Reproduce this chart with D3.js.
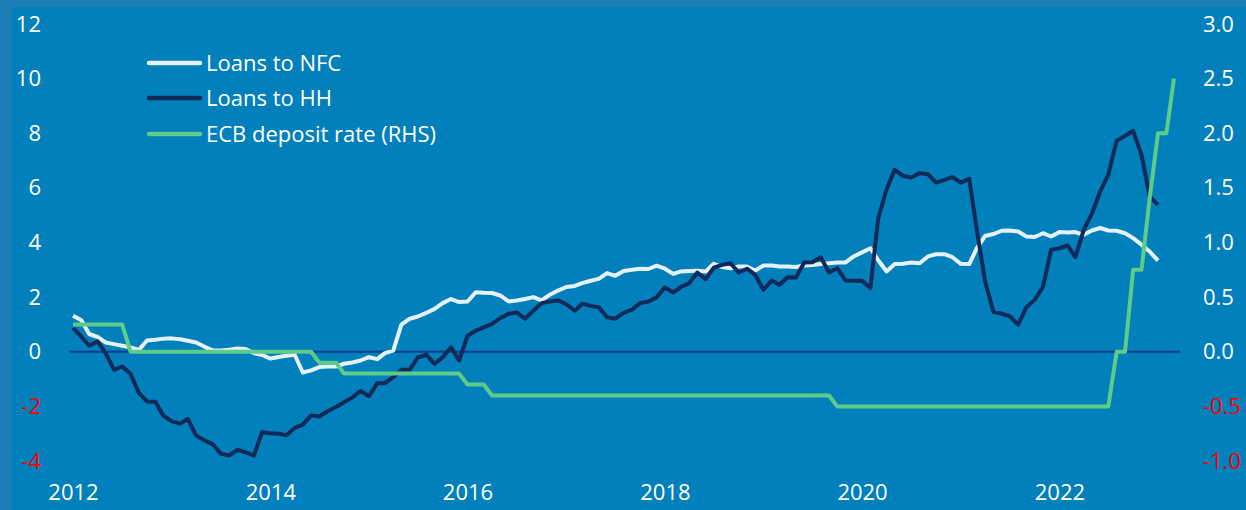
<!DOCTYPE html>
<html>
<head>
<meta charset="utf-8">
<script src="https://cdn.jsdelivr.net/npm/d3@7"></script>
<style>
  html, body { margin: 0; padding: 0; background: #1c7eb5; }
  svg { display: block; font-family: "Open Sans", sans-serif; }
</style>
</head>
<body>
<div id="chart"></div>
<script>
// monthly series, first point = Jan 2012
const startMonth = new Date(2012, 0, 1);

const loansNFC = [
  1.32, 1.15, 0.65, 0.54, 0.34, 0.28, 0.22, 0.16, 0.07, 0.41, 0.44, 0.48,
  0.49, 0.46, 0.40, 0.34, 0.19, 0.05, 0.05, 0.07, 0.12, 0.10, -0.05, -0.12,
  -0.25, -0.19, -0.15, -0.11, -0.76, -0.68, -0.56, -0.54, -0.54, -0.44, -0.39, -0.32,
  -0.20, -0.27, -0.05, 0.04, 0.99, 1.21, 1.29, 1.42, 1.57, 1.78, 1.93, 1.82,
  1.84, 2.18, 2.16, 2.15, 2.06, 1.84, 1.88, 1.93, 2.00, 1.88, 2.09, 2.24,
  2.37, 2.41, 2.51, 2.60, 2.67, 2.88, 2.78, 2.96, 3.00, 3.04, 3.03, 3.15,
  3.04, 2.85, 2.94, 2.96, 2.97, 2.94, 3.22, 3.10, 3.06, 3.12, 3.12, 2.97,
  3.16, 3.16, 3.12, 3.12, 3.10, 3.16, 3.18, 3.21, 3.24, 3.27, 3.27, 3.49,
  3.64, 3.79, 3.35, 2.94, 3.21, 3.22, 3.27, 3.24, 3.49, 3.57, 3.57, 3.46,
  3.22, 3.21, 3.79, 4.24, 4.31, 4.43, 4.44, 4.40, 4.22, 4.20, 4.34, 4.22,
  4.38, 4.37, 4.38, 4.28, 4.44, 4.53, 4.44, 4.43, 4.34, 4.16, 3.92, 3.67,
  3.34
];

const loansHH = [
  0.87, 0.55, 0.22, 0.38, -0.05, -0.66, -0.54, -0.80, -1.51, -1.82, -1.83, -2.34,
  -2.55, -2.63, -2.46, -3.07, -3.24, -3.38, -3.73, -3.80, -3.59, -3.68, -3.80, -2.95,
  -2.98, -3.00, -3.06, -2.79, -2.67, -2.33, -2.37, -2.18, -2.02, -1.85, -1.67, -1.43,
  -1.63, -1.15, -1.15, -0.93, -0.66, -0.66, -0.21, -0.11, -0.44, -0.20, 0.16, -0.32,
  0.59, 0.77, 0.89, 1.02, 1.23, 1.39, 1.44, 1.21, 1.50, 1.78, 1.84, 1.88,
  1.74, 1.50, 1.76, 1.68, 1.63, 1.26, 1.21, 1.42, 1.54, 1.78, 1.84, 1.99,
  2.35, 2.17, 2.37, 2.51, 2.90, 2.66, 3.08, 3.18, 3.24, 2.90, 3.04, 2.82,
  2.27, 2.61, 2.45, 2.73, 2.72, 3.27, 3.28, 3.46, 2.90, 3.06, 2.61, 2.60,
  2.60, 2.33, 4.89, 5.95, 6.66, 6.44, 6.38, 6.54, 6.50, 6.19, 6.29, 6.39,
  6.19, 6.33, 4.46, 2.57, 1.47, 1.39, 1.30, 0.99, 1.63, 1.90, 2.37, 3.73,
  3.79, 3.89, 3.46, 4.46, 5.05, 5.87, 6.48, 7.73, 7.90, 8.09, 7.21, 5.68,
  5.38
];

const ecbRate = [
  0.25, 0.25, 0.25, 0.25, 0.25, 0.25, 0.25, 0, 0, 0, 0, 0,
  0, 0, 0, 0, 0, 0, 0, 0, 0, 0, 0, 0,
  0, 0, 0, 0, 0, 0, -0.1, -0.1, -0.1, -0.2, -0.2, -0.2,
  -0.2, -0.2, -0.2, -0.2, -0.2, -0.2, -0.2, -0.2, -0.2, -0.2, -0.2, -0.2,
  -0.3, -0.3, -0.3, -0.4, -0.4, -0.4, -0.4, -0.4, -0.4, -0.4, -0.4, -0.4,
  -0.4, -0.4, -0.4, -0.4, -0.4, -0.4, -0.4, -0.4, -0.4, -0.4, -0.4, -0.4,
  -0.4, -0.4, -0.4, -0.4, -0.4, -0.4, -0.4, -0.4, -0.4, -0.4, -0.4, -0.4,
  -0.4, -0.4, -0.4, -0.4, -0.4, -0.4, -0.4, -0.4, -0.4, -0.5, -0.5, -0.5,
  -0.5, -0.5, -0.5, -0.5, -0.5, -0.5, -0.5, -0.5, -0.5, -0.5, -0.5, -0.5,
  -0.5, -0.5, -0.5, -0.5, -0.5, -0.5, -0.5, -0.5, -0.5, -0.5, -0.5, -0.5,
  -0.5, -0.5, -0.5, -0.5, -0.5, -0.5, -0.5, 0, 0, 0.75, 0.75, 1.4,
  2.0, 2.0, 2.5
];

const leftTicks = [-4, -2, 0, 2, 4, 6, 8, 10, 12];
const rightTicks = [-1.0, -0.5, 0.0, 0.5, 1.0, 1.5, 2.0, 2.5, 3.0];
const yearTicks = [2012, 2014, 2016, 2018, 2020, 2022];

const seriesNames = ["Loans to NFC", "Loans to HH", "ECB deposit rate (RHS)"];
const seriesColors = ["#e4f2f7", "#13295a", "#5ecb89"];

const width = 1246, height = 510;

const svg = d3.select("#chart")
  .append("svg")
  .attr("width", width)
  .attr("height", height);

// outer frame + panel
svg.append("rect").attr("width", width).attr("height", height).attr("fill", "#1c7eb5");
svg.append("rect")
  .attr("x", 12).attr("y", 7)
  .attr("width", width - 12).attr("height", height - 7)
  .attr("fill", "#0180bb");

const monthDate = i => d3.timeMonth.offset(startMonth, i);

const x = d3.scaleTime()
  .domain([new Date(2012, 0, 1), new Date(2023, 0, 1)])
  .range([73, 1158]);
const yL = d3.scaleLinear().domain([-4, 12]).range([461, 24]);
const yR = d3.scaleLinear().domain([-1, 3]).range([461, 24]);

const tickColor = d => d < 0 ? "#ff0000" : "#ffffff";

// left axis
const axL = svg.append("g")
  .attr("transform", "translate(41,0)")
  .call(d3.axisLeft(yL).tickValues(leftTicks).tickSize(0).tickPadding(0).tickFormat(d => String(d)));
axL.select(".domain").remove();
axL.selectAll("text")
  .attr("fill", tickColor)
  .style("font-size", "22px")
  .style("font-family", "'Open Sans', sans-serif");

// right axis
const axR = svg.append("g")
  .attr("transform", "translate(1203,0)")
  .call(d3.axisRight(yR).tickValues(rightTicks).tickSize(0).tickPadding(0).tickFormat(d => d.toFixed(1)));
axR.select(".domain").remove();
axR.selectAll("text")
  .attr("fill", tickColor)
  .style("font-size", "22px")
  .style("font-family", "'Open Sans', sans-serif");

// bottom axis
const axX = svg.append("g")
  .attr("transform", "translate(0,484)")
  .call(d3.axisBottom(x)
    .tickValues(yearTicks.map(y => new Date(y, 0, 1)))
    .tickSize(0).tickPadding(0)
    .tickFormat(d3.timeFormat("%Y")));
axX.select(".domain").remove();
axX.selectAll("text")
  .attr("fill", "#ffffff")
  .style("font-size", "22px")
  .style("font-family", "'Open Sans', sans-serif");

// zero line
svg.append("line")
  .attr("x1", 70).attr("x2", 1180)
  .attr("y1", yL(0)).attr("y2", yL(0))
  .attr("stroke", "#0a3b8c")
  .attr("stroke-width", 2);

const lineL = d3.line().x((d, i) => x(monthDate(i))).y(d => yL(d));
const lineR = d3.line().x((d, i) => x(monthDate(i))).y(d => yR(d));

const drawSeries = (data, gen, color) =>
  svg.append("path")
    .datum(data)
    .attr("d", gen)
    .attr("fill", "none")
    .attr("stroke", color)
    .attr("stroke-width", 4)
    .attr("stroke-linejoin", "round");

drawSeries(loansNFC, lineL, seriesColors[0]);
drawSeries(loansHH, lineL, seriesColors[1]);
drawSeries(ecbRate, lineR, seriesColors[2]);

// legend
const legend = svg.append("g");
const legendY = [63, 98, 134];
seriesNames.forEach((name, i) => {
  legend.append("line")
    .attr("x1", 149).attr("x2", 200)
    .attr("y1", legendY[i]).attr("y2", legendY[i])
    .attr("stroke", seriesColors[i])
    .attr("stroke-width", 4.5)
    .attr("stroke-linecap", "round");
  legend.append("text")
    .attr("x", 206)
    .attr("y", legendY[i] + 8)
    .attr("fill", "#ffffff")
    .style("font-size", "22px")
    .text(name);
});
</script>
</body>
</html>
